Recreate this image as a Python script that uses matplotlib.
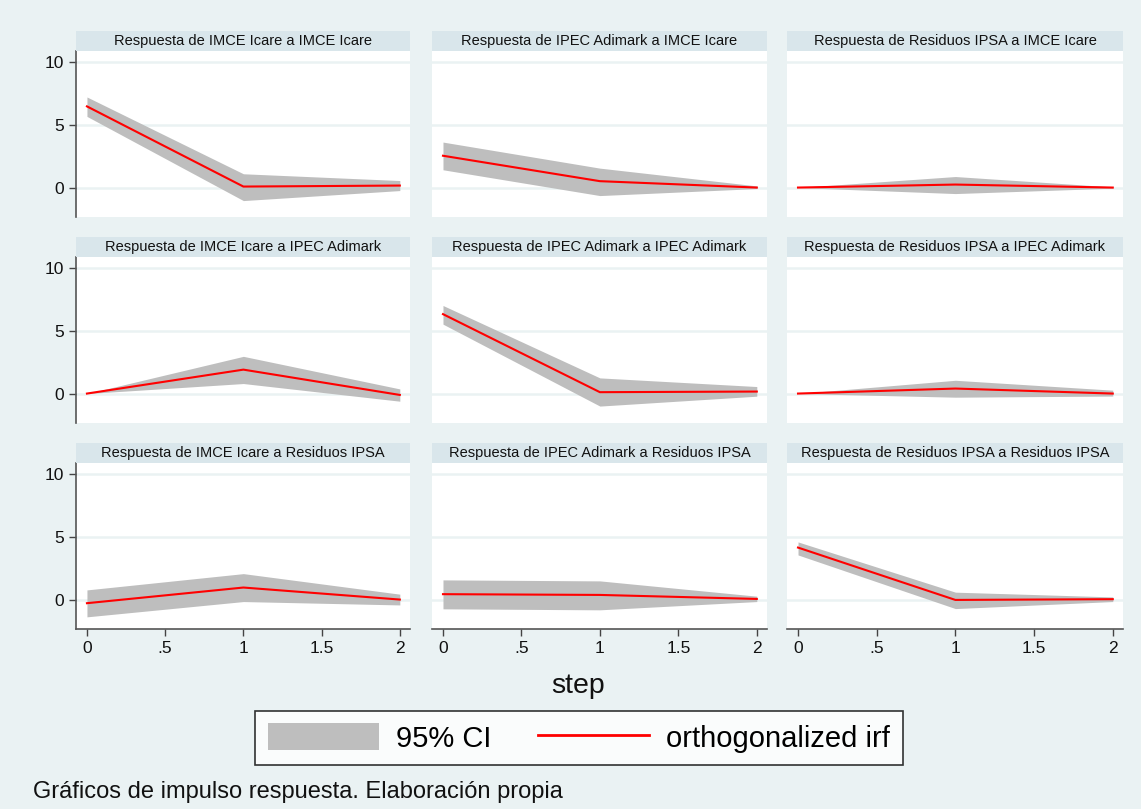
import matplotlib.pyplot as plt
import matplotlib.patches as mpatches
from matplotlib.lines import Line2D
from matplotlib.ticker import FuncFormatter

plt.rcParams['font.family'] = ['Liberation Sans', 'DejaVu Sans']

steps = [0, 1, 2]
variables = ['IMCE Icare', 'IPEC Adimark', 'Residuos IPSA']

# irf[impulse][response] , upper/lower 95% CI
irf = {
    'IMCE Icare':    {'IMCE Icare': [6.48, 0.08, 0.16], 'IPEC Adimark': [2.54, 0.51, 0.0], 'Residuos IPSA': [0.0, 0.24, 0.0]},
    'IPEC Adimark':  {'IMCE Icare': [0.0, 1.91, -0.11], 'IPEC Adimark': [6.34, 0.11, 0.16], 'Residuos IPSA': [0.0, 0.4, 0.0]},
    'Residuos IPSA': {'IMCE Icare': [-0.29, 0.96, 0.0], 'IPEC Adimark': [0.43, 0.37, 0.05], 'Residuos IPSA': [4.15, -0.03, 0.03]},
}
upper = {
    'IMCE Icare':    {'IMCE Icare': [7.23, 1.1, 0.56], 'IPEC Adimark': [3.63, 1.55, 0.13], 'Residuos IPSA': [0.0, 0.88, 0.05]},
    'IPEC Adimark':  {'IMCE Icare': [0.0, 2.97, 0.37], 'IPEC Adimark': [7.03, 1.25, 0.56], 'Residuos IPSA': [0.0, 1.06, 0.27]},
    'Residuos IPSA': {'IMCE Icare': [0.77, 2.07, 0.43], 'IPEC Adimark': [1.57, 1.49, 0.27], 'Residuos IPSA': [4.6, 0.59, 0.21]},
}
lower = {
    'IMCE Icare':    {'IMCE Icare': [5.68, -1.04, -0.24], 'IPEC Adimark': [1.42, -0.64, -0.08], 'Residuos IPSA': [0.0, -0.48, -0.05]},
    'IPEC Adimark':  {'IMCE Icare': [0.0, 0.8, -0.61], 'IPEC Adimark': [5.54, -1.0, -0.21], 'Residuos IPSA': [0.0, -0.29, -0.2]},
    'Residuos IPSA': {'IMCE Icare': [-1.38, -0.16, -0.43], 'IPEC Adimark': [-0.74, -0.82, -0.16], 'Residuos IPSA': [3.56, -0.72, -0.16]},
}

W, H = 1141, 809
bg = '#eaf2f3'
band = '#d9e6eb'
fig = plt.figure(figsize=(W / 100, H / 100), dpi=100, facecolor=bg)

cols = [(76, 410), (432, 767), (787, 1123)]
rows = [(31, 51, 217), (237, 257, 423), (443, 463, 629)]

def fx(x):
    return x / W

def fy(y):
    return 1 - y / H

def fmt(v, p):
    s = '%g' % v
    return s[1:] if s.startswith('0.') else s

for i, imp in enumerate(variables):
    for j, resp in enumerate(variables):
        x0, x1 = cols[j]
        t0, t1, b = rows[i]
        ax = fig.add_axes([fx(x0), fy(b), fx(x1) - fx(x0), fy(t1) - fy(b)])
        ax.set_facecolor('white')
        ax.fill_between(steps, lower[imp][resp], upper[imp][resp], color='#bebebe', lw=0)
        ax.plot(steps, irf[imp][resp], color='#ff0000', lw=1.5)
        ax.set_xlim(-0.07, 2.065)
        ax.set_ylim(-2.35, 10.9)
        ax.set_yticks([0, 5, 10])
        ax.set_xticks([0, 0.5, 1, 1.5, 2])
        ax.xaxis.set_major_formatter(FuncFormatter(fmt))
        ax.grid(axis='y', color=bg, lw=1.8)
        ax.set_axisbelow(True)
        for s in ax.spines.values():
            s.set_visible(False)
        ax.tick_params(axis='both', labelsize=12.5, color='#444444', length=5, width=1, labelcolor='#111111')
        if j == 0:
            ax.spines['left'].set_visible(True)
            ax.spines['left'].set_color('#555555')
            ax.spines['left'].set_linewidth(1.2)
        else:
            ax.tick_params(axis='y', left=False, labelleft=False)
        if i == 2:
            ax.spines['bottom'].set_visible(True)
            ax.spines['bottom'].set_color('#555555')
            ax.spines['bottom'].set_linewidth(1.2)
        else:
            ax.tick_params(axis='x', bottom=False, labelbottom=False)
        # panel title band
        fig.patches.append(mpatches.Rectangle((fx(x0), fy(t1)), fx(x1) - fx(x0), fy(t0) - fy(t1),
                                              transform=fig.transFigure, facecolor=band, edgecolor='none'))
        fig.text(fx((x0 + x1) / 2), fy((t0 + t1) / 2), 'Respuesta de %s a %s' % (resp, imp),
                 ha='center', va='center', fontsize=10.5, color='#111111')

fig.text(fx(578), fy(686), 'step', ha='center', va='center', fontsize=20.5, color='#111111')

handles = [mpatches.Patch(facecolor='#bebebe', edgecolor='none'),
           Line2D([0], [0], color='#ff0000', lw=2)]
leg = fig.legend(handles, ['95% CI', 'orthogonalized irf'], loc='center',
                 bbox_to_anchor=(fx(579), fy(738)), ncol=2, fontsize=21, frameon=True,
                 fancybox=False, edgecolor='black', handlelength=3.8, handleheight=1.0,
                 columnspacing=1.6, borderpad=0.42, handletextpad=0.6)
leg.get_frame().set_linewidth(1.2)

fig.text(fx(33), fy(792), 'Gráficos de impulso respuesta. Elaboración propia',
         ha='left', va='center', fontsize=17, color='#111111')

fig.savefig('out.png', dpi=100, facecolor=bg)
